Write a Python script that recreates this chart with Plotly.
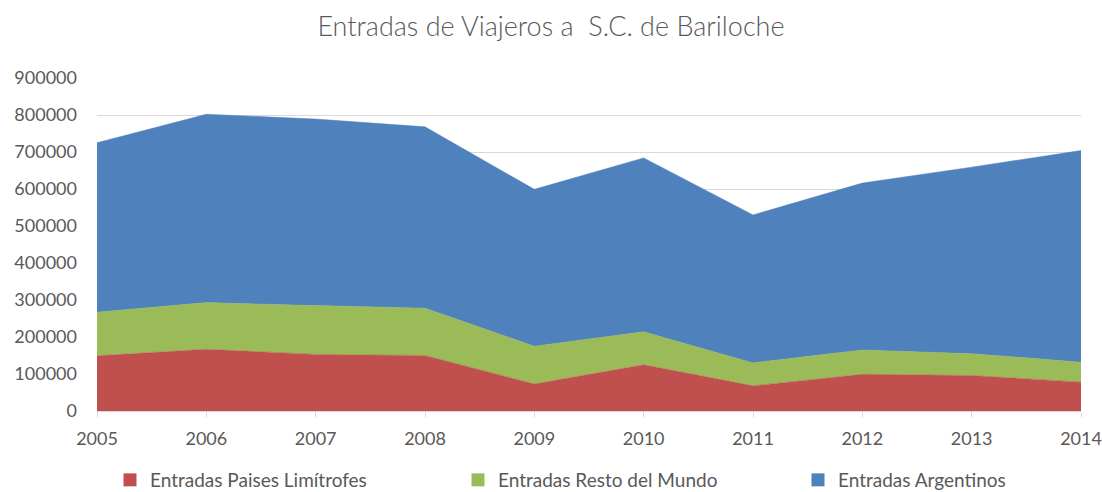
import plotly.graph_objects as go

years = [2005, 2006, 2007, 2008, 2009, 2010, 2011, 2012, 2013, 2014]
limitrofes = [149000, 167000, 153000, 150000, 73000, 125000, 68000, 99000, 96000, 78000]
resto_mundo = [118000, 126000, 132000, 128000, 102000, 89000, 62000, 66000, 59000, 54000]
argentinos = [458000, 509000, 504000, 490000, 424000, 470000, 400000, 451000, 504000, 572000]

series = [
    ("Entradas Paises Limítrofes", limitrofes, "#C0504D"),
    ("Entradas Resto del Mundo", resto_mundo, "#9BBB59"),
    ("Entradas Argentinos", argentinos, "#4F81BD"),
]
legend_ids = ["legend", "legend2", "legend3"]
legend_x = [110, 458, 798]

font_family = "Lato, 'Open Sans', sans-serif"
txt = "#595959"
W, H = 1102, 492

fig = go.Figure()
for name, vals, col in series:
    fig.add_trace(go.Scatter(
        x=years, y=vals, name=name, mode="lines",
        stackgroup="one", line=dict(color=col, width=0.5),
        fillcolor=col, showlegend=False,
    ))
# legend entries with square swatches, one legend per entry
for (name, vals, col), lid in zip(series, legend_ids):
    fig.add_trace(go.Scatter(
        x=[None], y=[None], name=name, mode="markers",
        marker=dict(symbol="square", size=13, color=col),
        showlegend=True, legend=lid,
    ))

legend_common = dict(orientation="h", xanchor="left", xref="container",
                     y=(H - 480) / H, yanchor="middle", yref="container",
                     font=dict(size=19, color=txt, family=font_family),
                     itemwidth=30, bgcolor="rgba(0,0,0,0)")

fig.update_layout(
    width=W, height=H,
    margin=dict(l=97, r=21, t=78, b=81, autoexpand=False),
    paper_bgcolor="white", plot_bgcolor="white",
    font=dict(family=font_family, color=txt, size=18),
    title=dict(text="Entradas de Viajeros a  S.C. de Bariloche",
               x=0.5, xanchor="center", xref="container",
               y=(H - 27) / H, yanchor="middle", yref="container",
               font=dict(size=27, color=txt, family=font_family, weight=300)),
    showlegend=True,
    xaxis=dict(range=[2005, 2014], tickmode="array", tickvals=years,
               ticktext=[str(y) for y in years], showgrid=False,
               showline=True, linecolor="#D9D9D9", linewidth=1,
               ticks="outside", tickcolor="#D9D9D9", ticklen=5,
               ticklabelstandoff=6,
               tickfont=dict(size=18, color=txt), zeroline=False, automargin=False),
    yaxis=dict(range=[0, 900000], tickmode="linear", tick0=0, dtick=100000,
               tickformat="d", showgrid=True, gridcolor="#D9D9D9", gridwidth=1,
               showline=False, zeroline=False, ticks="", automargin=False,
               ticklabelstandoff=19,
               tickfont=dict(size=18, color=txt)),
)
for lid, lx in zip(legend_ids, legend_x):
    fig.update_layout({lid: dict(legend_common, x=lx / W)})

fig.write_html("out.html", config={"displayModeBar": False},
               post_script="document.body.style.margin='0';document.body.style.padding='0';")
